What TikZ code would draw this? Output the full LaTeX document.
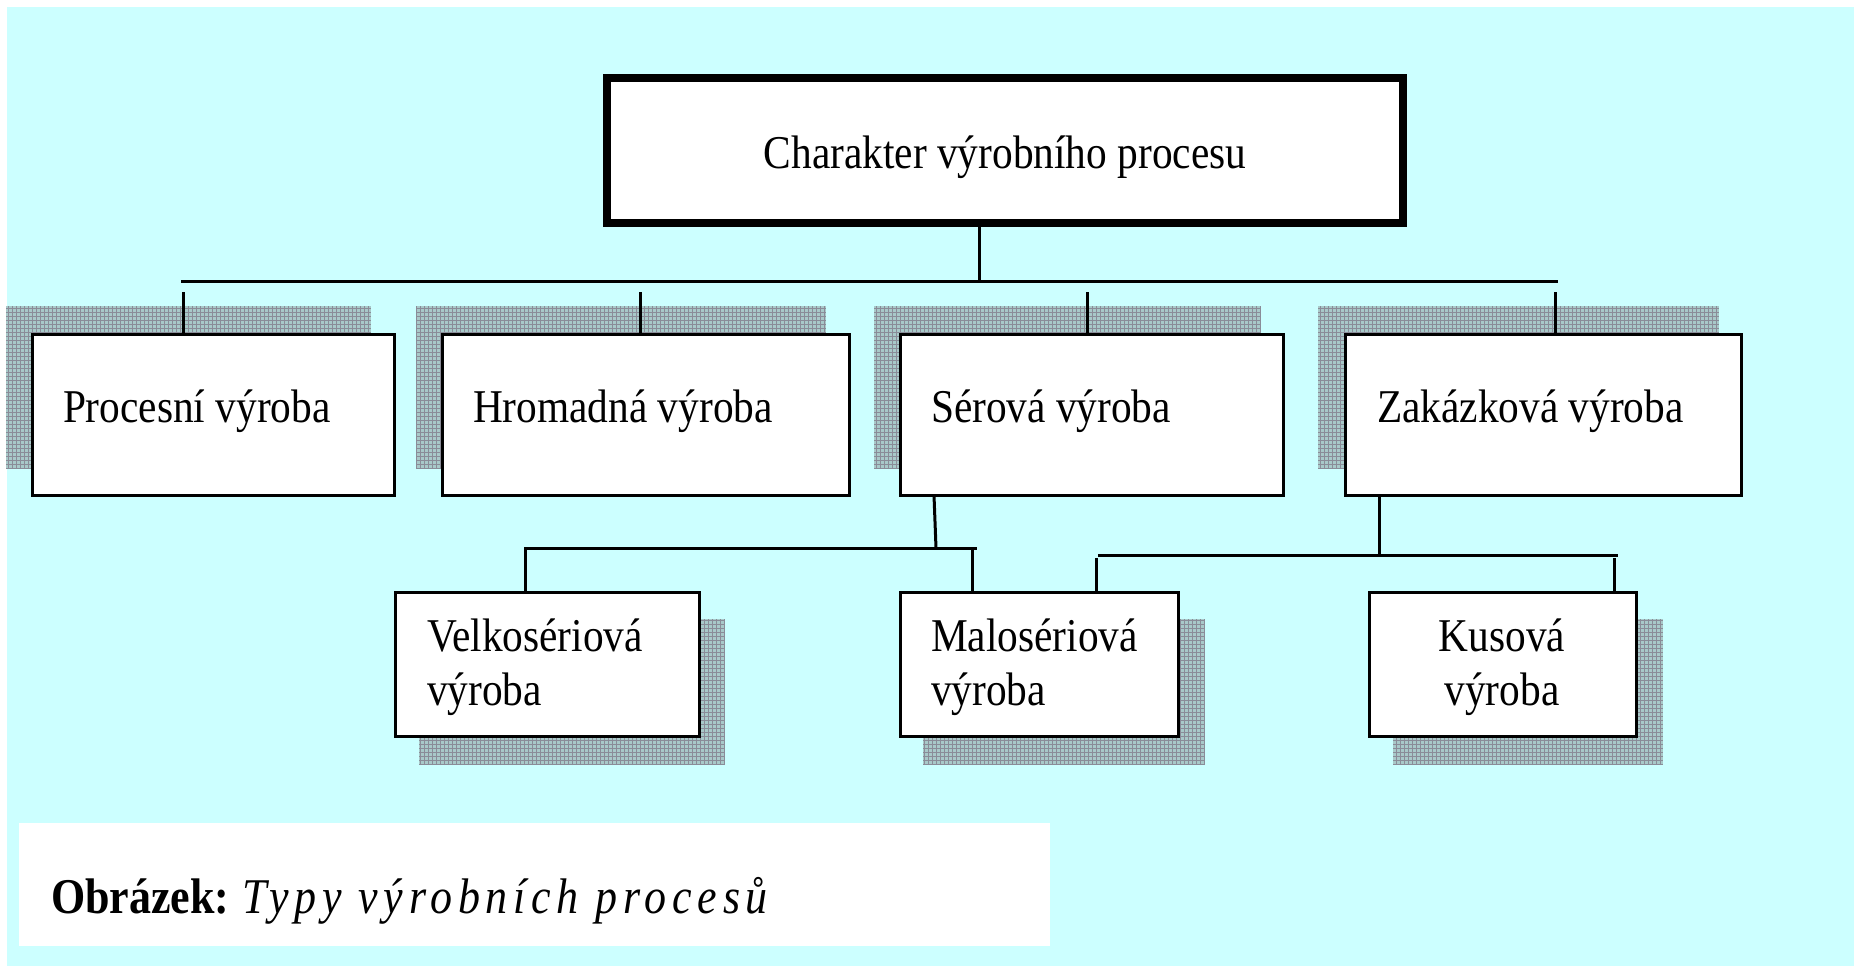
\documentclass[tikz,border=0pt]{standalone}
\usepackage{fontspec}
\setmainfont{Liberation Serif}[FakeStretch=0.88]
\newfontfamily\capitfont{Liberation Serif}[FakeStretch=0.88,LetterSpace=11.5]
\definecolor{bgcyan}{HTML}{CCFFFF}
\definecolor{shadefill}{HTML}{A8C9C9}
\definecolor{shadeline}{HTML}{8A8C98}
\begin{document}
\begin{tikzpicture}[x=1pt,y=-1pt,
  boxnode/.style={draw=black, fill=white, line width=3pt, inner sep=0pt, outer sep=0pt},
  topbox/.style={draw=black, fill=white, line width=8pt, inner sep=0pt, outer sep=0pt},
  lbl/.style={inner sep=0pt, outer sep=0pt, font=\fontsize{47}{54}\selectfont},
  conn/.style={line width=3pt, draw=black},
  shadowfill/.style={fill=shadefill},
  shadowgrid/.style={draw=shadeline, line width=0.8pt}
]
\useasboundingbox (0,0) rectangle (1854,966);
\fill[white] (0,0) rectangle (1854,966);
\fill[bgcyan] (7,7) rectangle (1854,966);
\fill[white] (19,823) rectangle (1050,946);

% shadows
\foreach \xa/\ya/\xb/\yb in {6/306/371/469, 416/306/826/469, 874/306/1260/469, 1318/306/1719/469,
  419/619/725/765, 923/619/1205/765, 1393/619/1663/765}{
  \fill[shadowfill] (\xa,\ya) rectangle (\xb,\yb);
  \draw[shadowgrid, step=4pt] (\xa,\yb) grid (\xb,\ya);
}

% boxes
\node[topbox, minimum width=796, minimum height=145] (top) at (1005,150.5) {};
\node[boxnode, minimum width=362, minimum height=161] (p1) at (213.5,415) {};
\node[boxnode, minimum width=407, minimum height=161] (p2) at (646,415) {};
\node[boxnode, minimum width=383, minimum height=161] (p3) at (1092,415) {};
\node[boxnode, minimum width=396, minimum height=161] (p4) at (1543.5,415) {};
\node[boxnode, minimum width=304, minimum height=144] (v) at (547.5,664.5) {};
\node[boxnode, minimum width=278, minimum height=144] (m) at (1039.5,664.5) {};
\node[boxnode, minimum width=267, minimum height=144] (k) at (1503,664.5) {};

% labels
\node[lbl, anchor=base] (ttop) at (1005,168) {Charakter výrobního procesu};
\node[lbl, anchor=base west] (t1) at (63,422) {Procesní výroba};
\node[lbl, anchor=base west] (t2) at (473,422) {Hromadná výroba};
\node[lbl, anchor=base west] (t3) at (931,422) {Sérová výroba};
\node[lbl, anchor=base west] (t4) at (1377,422) {Zakázková výroba};
\node[lbl, anchor=base west, align=left] (tv) at (427,705) {Velkosériová\\výroba};
\node[lbl, anchor=base west, align=left] (tm) at (931,705) {Malosériová\\výroba};
\node[lbl, anchor=base, align=center] (tk) at (1502,705) {Kusová\\výroba};

% connectors level 1
\coordinate (j0) at (979,281);
\coordinate (busL) at (181,281);
\coordinate (busR) at (1558,281);
\draw[conn] (top.south -| j0) -- (j0);
\draw[conn] (busL) -- (busR);
\coordinate (d1) at (183,292);
\coordinate (d2) at (640,292);
\coordinate (d3) at (1087,292);
\coordinate (d4) at (1555,292);
\draw[conn] (d1) -- (d1 |- p1.north);
\draw[conn] (d2) -- (d2 |- p2.north);
\draw[conn] (d3) -- (d3 |- p3.north);
\draw[conn] (d4) -- (d4 |- p4.north);

% connectors level 2 left
\coordinate (j3) at (936,548);
\coordinate (b3L) at (524,548);
\coordinate (b3R) at (977,548);
\coordinate (e1) at (525,550);
\coordinate (e2) at (972,550);
\draw[conn] ([xshift=-158pt]p3.south) -- (j3);
\draw[conn] (b3L) -- (b3R);
\draw[conn] (e1) -- (e1 |- v.north);
\draw[conn] (e2) -- (e2 |- m.north);

% connectors level 2 right
\coordinate (j4) at (1379,555);
\coordinate (b4L) at (1098,555);
\coordinate (b4R) at (1618,555);
\coordinate (e3) at (1096,558);
\coordinate (e4) at (1614,558);
\draw[conn] (p4.south -| j4) -- (j4);
\draw[conn] (b4L) -- (b4R);
\draw[conn] (e3) -- (e3 |- m.north);
\draw[conn] (e4) -- (e4 |- k.north);

% caption
\node[inner sep=0pt, outer sep=0pt, anchor=base west, font=\fontsize{50}{58}\selectfont] (cap) at (51,913)
  {\textbf{Obrázek:}\hspace{13pt}{\capitfont\itshape Typy výrobních procesů}};
\end{tikzpicture}
\end{document}
